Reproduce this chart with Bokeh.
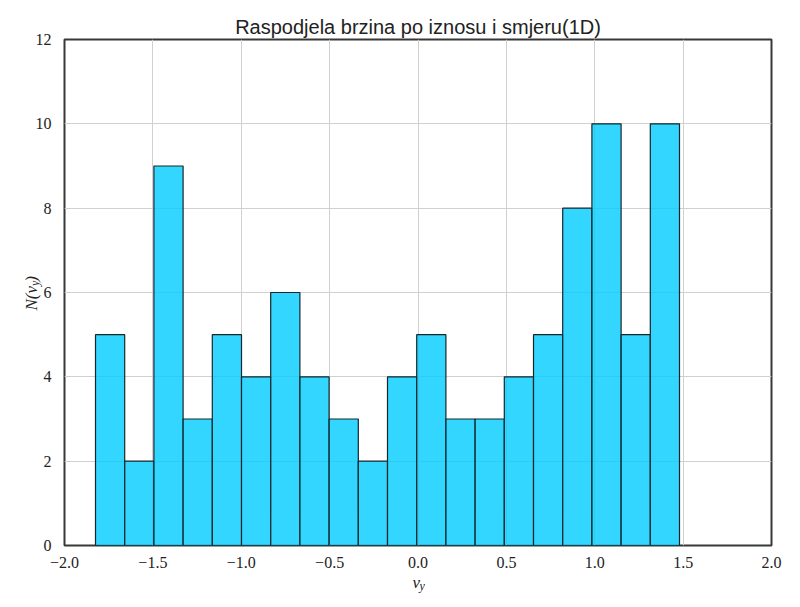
import numpy as np
from bokeh.plotting import figure
from bokeh.models import Range1d, Label, FixedTicker, CustomJSTickFormatter, ColumnDataSource
from bokeh.embed import file_html
from bokeh.resources import INLINE

# Histogram data
bin_lo = -1.8246
bin_hi = 1.4795
counts = [5, 2, 9, 3, 5, 4, 6, 4, 3, 2, 4, 5, 3, 3, 4, 5, 8, 10, 5, 10]
x_ticks = [-2.0, -1.5, -1.0, -0.5, 0.0, 0.5, 1.0, 1.5, 2.0]
y_ticks = [0, 2, 4, 6, 8, 10, 12]
title_text = "Raspodjela brzina po iznosu i smjeru(1D)"

edges = np.linspace(bin_lo, bin_hi, len(counts) + 1)
src = ColumnDataSource(dict(left=edges[:-1], right=edges[1:], top=counts, bottom=[0] * len(counts)))

p = figure(width=800, height=607, output_backend="svg", toolbar_location=None,
           x_range=Range1d(-2, 2), y_range=Range1d(0, 12), title=title_text)
p.min_border_left = 64
p.min_border_right = 29
p.min_border_top = 39
p.min_border_bottom = 62
p.background_fill_color = "white"
p.border_fill_color = "white"
p.outline_line_color = "#383838"
p.outline_line_width = 2

p.title.align = "center"
p.title.text_font = "Liberation Sans"
p.title.text_font_style = "normal"
p.title.text_font_size = "20px"
p.title.text_color = "#222222"
p.title.standoff = 3

p.quad(left="left", right="right", top="top", bottom="bottom", source=src,
       fill_color="#00CCFF", fill_alpha=0.8, line_color="#16262b", line_width=1.2)

for ax in (p.xaxis, p.yaxis):
    ax.axis_line_color = None
    ax.major_tick_line_color = None
    ax.minor_tick_line_color = None
    ax.major_label_text_font = "Liberation Serif"
    ax.major_label_text_font_size = "16px"
    ax.major_label_text_color = "#222222"

p.xaxis.ticker = FixedTicker(ticks=x_ticks)
p.yaxis.ticker = FixedTicker(ticks=y_ticks)
p.xaxis.formatter = CustomJSTickFormatter(code="return tick.toFixed(1).replace('-', '\u2212');")
p.yaxis.formatter = CustomJSTickFormatter(code="return tick.toFixed(0);")
p.xaxis.major_label_standoff = 5
p.yaxis.major_label_standoff = 7

p.xgrid.grid_line_color = "#d0d0d0"
p.ygrid.grid_line_color = "#d0d0d0"

common = dict(text_font="Liberation Serif", text_font_style="italic", text_color="#222222",
              text_baseline="alphabetic", text_align="left")

# Axis labels placed in side panels (not clipped), positioned with the plot's scales
# x label: v_y
p.add_layout(Label(x=-0.031, y=-0.878, text="v", text_font_size="17px", **common), "below")
p.add_layout(Label(x=0.0085, y=-0.972, text="y", text_font_size="12px", **common), "below")

# y label: N(v_y), rotated
ang = np.pi / 2
p.add_layout(Label(x=-2.1867, y=5.573, text="N(v )", angle=ang, text_font_size="17px", **common), "left")
p.add_layout(Label(x=-2.1697, y=6.154, text="y", angle=ang, text_font_size="12px", **common), "right")

open("out.html", "w").write(file_html(p, INLINE))
